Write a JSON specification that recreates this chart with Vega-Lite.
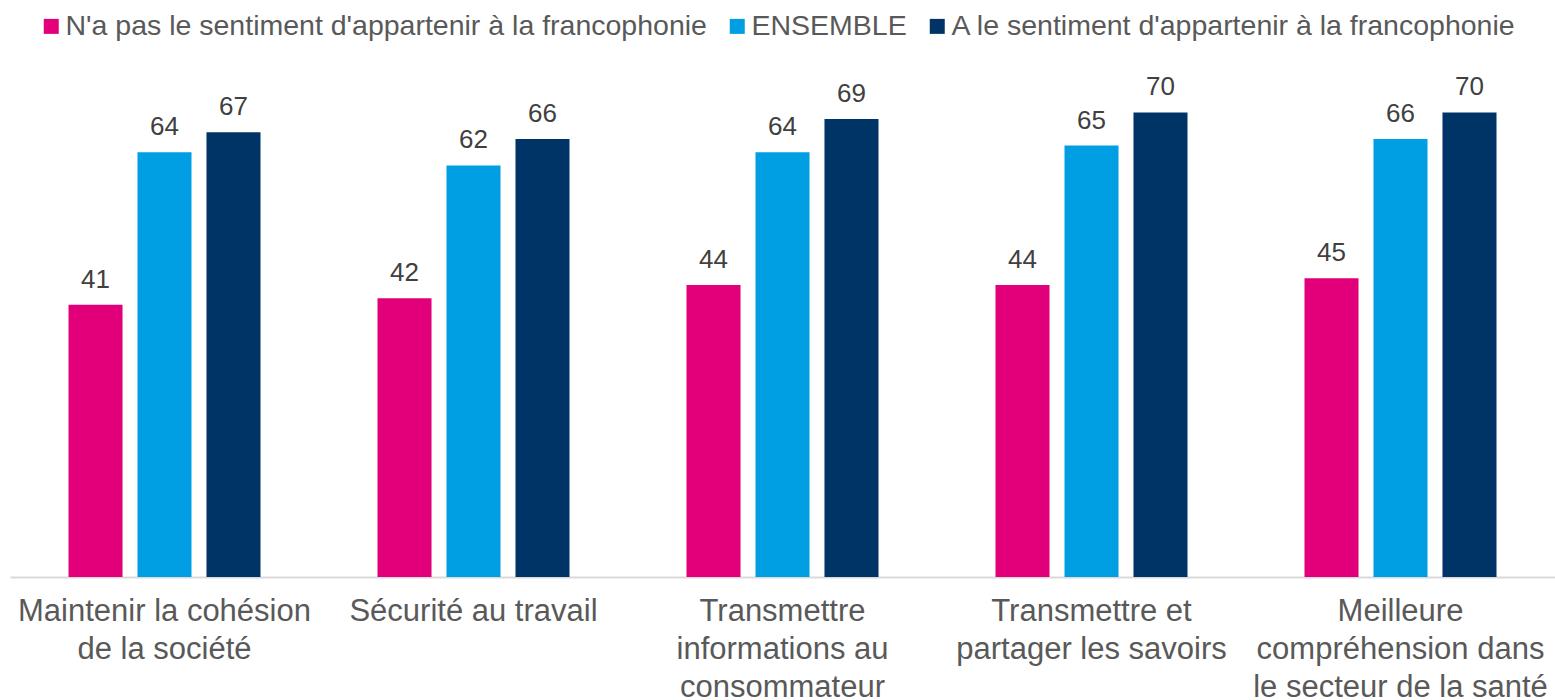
{
  "$schema": "https://vega.github.io/schema/vega-lite/v6.json",
  "width": 1545,
  "height": 531,
  "autosize": {"type": "none"},
  "padding": {"left": 10, "top": 46, "right": 0, "bottom": 123},
  "background": "white",
  "config": {"view": {"stroke": null}, "font": "Liberation Sans"},
  "data": {
    "values": [
      {"cat": "Maintenir la cohésion|de la société", "series": "N'a pas le sentiment d'appartenir à la francophonie", "value": 41},
      {"cat": "Maintenir la cohésion|de la société", "series": "ENSEMBLE", "value": 64},
      {"cat": "Maintenir la cohésion|de la société", "series": "A le sentiment d'appartenir à la francophonie", "value": 67},
      {"cat": "Sécurité au travail", "series": "N'a pas le sentiment d'appartenir à la francophonie", "value": 42},
      {"cat": "Sécurité au travail", "series": "ENSEMBLE", "value": 62},
      {"cat": "Sécurité au travail", "series": "A le sentiment d'appartenir à la francophonie", "value": 66},
      {"cat": "Transmettre|informations au|consommateur", "series": "N'a pas le sentiment d'appartenir à la francophonie", "value": 44},
      {"cat": "Transmettre|informations au|consommateur", "series": "ENSEMBLE", "value": 64},
      {"cat": "Transmettre|informations au|consommateur", "series": "A le sentiment d'appartenir à la francophonie", "value": 69},
      {"cat": "Transmettre et|partager les savoirs", "series": "N'a pas le sentiment d'appartenir à la francophonie", "value": 44},
      {"cat": "Transmettre et|partager les savoirs", "series": "ENSEMBLE", "value": 65},
      {"cat": "Transmettre et|partager les savoirs", "series": "A le sentiment d'appartenir à la francophonie", "value": 70},
      {"cat": "Meilleure|compréhension dans|le secteur de la santé", "series": "N'a pas le sentiment d'appartenir à la francophonie", "value": 45},
      {"cat": "Meilleure|compréhension dans|le secteur de la santé", "series": "ENSEMBLE", "value": 66},
      {"cat": "Meilleure|compréhension dans|le secteur de la santé", "series": "A le sentiment d'appartenir à la francophonie", "value": 70}
    ]
  },
  "encoding": {
    "x": {
      "field": "cat",
      "type": "nominal",
      "sort": null,
      "scale": {"paddingInner": 0, "paddingOuter": 0},
      "axis": {
        "title": null,
        "labelAngle": 0,
        "domainColor": "#D9D9D9",
        "domainWidth": 2,
        "ticks": false,
        "labelFontSize": 31,
        "labelColor": "#595959",
        "labelPadding": 19,
        "labelLineHeight": 38,
        "labelLimit": 0,
        "labelBaseline": "top",
        "labelExpr": "split(datum.label, '|')"
      }
    },
    "xOffset": {
      "field": "series",
      "type": "nominal",
      "sort": ["N'a pas le sentiment d'appartenir à la francophonie", "ENSEMBLE", "A le sentiment d'appartenir à la francophonie"],
      "scale": {"paddingInner": 0.217, "paddingOuter": 0.848}
    },
    "y": {"field": "value", "type": "quantitative", "scale": {"domain": [0, 80]}, "axis": null}
  },
  "layer": [
    {
      "mark": {"type": "bar"},
      "encoding": {
        "color": {
          "field": "series",
          "type": "nominal",
          "sort": ["N'a pas le sentiment d'appartenir à la francophonie", "ENSEMBLE", "A le sentiment d'appartenir à la francophonie"],
          "scale": {
            "domain": ["N'a pas le sentiment d'appartenir à la francophonie", "ENSEMBLE", "A le sentiment d'appartenir à la francophonie"],
            "range": ["#E2007A", "#009FE3", "#003366"]
          },
          "legend": {
            "title": null,
            "orient": "none",
            "direction": "horizontal",
            "legendX": 27,
            "legendY": -34,
            "symbolType": "square",
            "symbolSize": 225,
            "symbolStrokeWidth": 0,
            "symbolOpacity": 1,
            "labelFontSize": 28.5,
            "labelColor": "#595959",
            "labelOffset": 0,
            "labelLimit": 0,
            "columnPadding": 16
          }
        }
      }
    },
    {
      "mark": {"type": "text", "baseline": "bottom", "dy": -12, "fontSize": 26, "color": "#404040"},
      "encoding": {"text": {"field": "value", "type": "quantitative"}}
    }
  ]
}
